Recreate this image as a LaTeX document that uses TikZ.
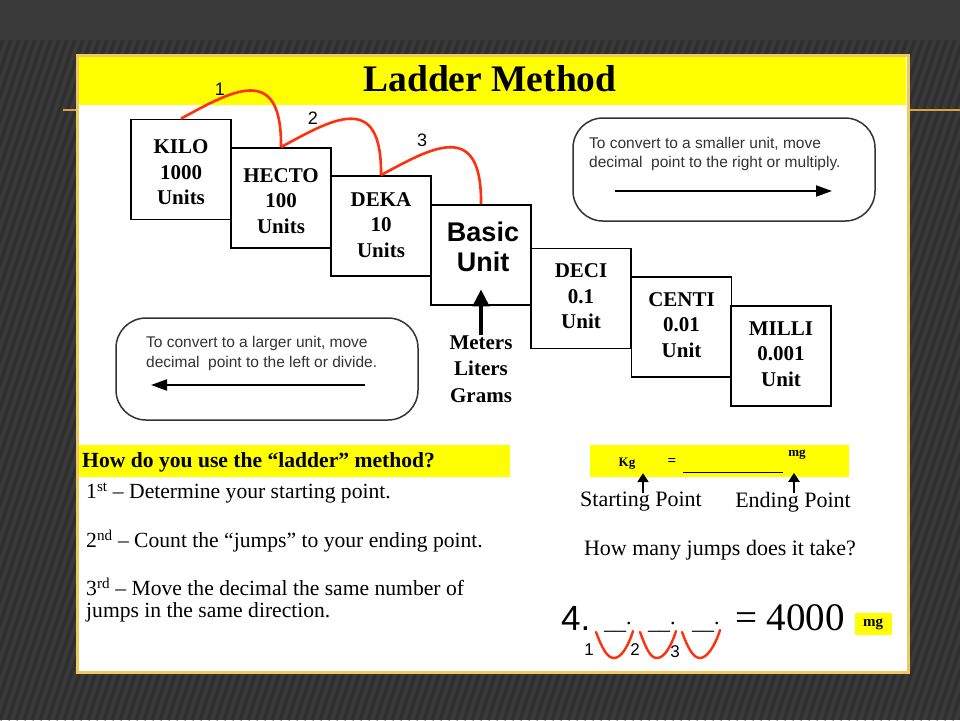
\documentclass[tikz,border=0pt]{standalone}
\usepackage{fontspec}
\setmainfont{Liberation Serif}
\setsansfont{Liberation Sans}
\usetikzlibrary{arrows.meta,calc}
\definecolor{bgdark}{HTML}{3A3A3A}
\definecolor{stripec}{HTML}{2F2F2F}
\definecolor{goldc}{HTML}{F0C860}
\definecolor{orangec}{HTML}{E0A040}
\definecolor{hiyellow}{HTML}{FFFF00}
\definecolor{jumpred}{HTML}{FF3010}
\definecolor{notegray}{HTML}{333333}
\begin{document}
\begin{tikzpicture}[x=1pt,y=-1pt,
  stripe/.style={stripec,line width=3.5pt},
  panel/.style={fill=white,draw=goldc,line width=3pt},
  titletext/.style={font=\bfseries\fontsize{37.5}{40}\selectfont},
  unitbox/.style={draw=black,fill=white,line width=1.8pt,minimum width=100pt,minimum height=100pt,inner sep=0pt},
  unittext/.style={font=\bfseries\fontsize{21}{25.5}\selectfont,align=center,inner sep=0pt},
  basictext/.style={font=\sffamily\bfseries\fontsize{27}{30}\selectfont,align=center,inner sep=0pt},
  jump/.style={jumpred,line width=2.6pt},
  jumplabel/.style={font=\sffamily\fontsize{18}{20}\selectfont,inner sep=0pt},
  notebox/.style={draw=notegray,line width=1.5pt,rounded corners=30pt},
  notetext/.style={font=\sffamily\fontsize{15.5}{19}\selectfont,text=notegray,anchor=west,inner sep=0pt},
  notearrow/.style={line width=2pt,-{Triangle[length=16pt,width=11pt]}},
  bigarrow/.style={line width=4pt,-{Triangle[length=17pt,width=16pt]}},
  smallarrow/.style={line width=2.2pt,-{Triangle[length=9pt,width=11pt]}},
  bodytext/.style={font=\fontsize{21.6}{25}\selectfont,anchor=west,inner sep=0pt},
  boldhead/.style={font=\bfseries\fontsize{21.6}{25}\selectfont,anchor=west,inner sep=0pt},
  pointtext/.style={font=\fontsize{22}{25}\selectfont,inner sep=0pt},
  vmark/.style={jumpred,line width=2.4pt,line cap=round},
  smallbold/.style={font=\bfseries\fontsize{13}{15}\selectfont,inner sep=0pt},
  blanktext/.style={font=\fontsize{22}{24}\selectfont,anchor=base west,inner sep=0pt}
]
\useasboundingbox (0,0) rectangle (960,720);
% background
\fill[bgdark] (0,0) rectangle (960,720);
\begin{scope}
  \clip (0,40) rectangle (960,720);
  \foreach \i in {-40,...,130} \draw[stripe] (\i*8,720) -- ++(230,-690);
\end{scope}
\draw[orangec,line width=1.2pt] (63,110) -- (960,110);
% panel
\draw[panel] (77,55) rectangle (908,672);
\fill[hiyellow] (79,57) rectangle (906,105);
\node[titletext] (title) at (490,79) {Ladder Method};
% ladder boxes
\node[unitbox] (kilo)  at (181,169.5) {};
\node[unitbox] (hecto) at (281,198) {};
\node[unitbox] (deka)  at (381,226) {};
\node[unitbox] (basic) at (481,255) {};
\node[unitbox] (deci)  at (581,298.5) {};
\node[unitbox] (centi) at (681.5,327) {};
\node[unitbox] (milli) at (781,356) {};
\node[unittext] at ([yshift=-3pt]kilo.center) {KILO\\1000\\Units};
\node[unittext] at ([yshift=-3pt]hecto.center) {HECTO\\100\\Units};
\node[unittext] at ([yshift=1pt]deka.center) {DEKA\\10\\Units};
\node[basictext] at ([xshift=2pt,yshift=8pt]basic.center) {Basic\\Unit};
\node[unittext] at ([yshift=2pt]deci.center) {DECI\\0.1\\Unit};
\node[unittext] at ([yshift=2pt]centi.center) {CENTI\\0.01\\Unit};
\node[unittext] at ([yshift=2pt]milli.center) {MILLI\\0.001\\Unit};
% jumps
\draw[jump] (kilo.north) .. controls +(50,-27) and +(1,-86) .. (hecto.north);
\draw[jump] (hecto.north) .. controls +(50,-27) and +(1,-86) .. (deka.north);
\draw[jump] (deka.north) .. controls +(50,-27) and +(1,-86) .. (basic.north);
\node[jumplabel] (j1) at (220,89) {1};
\node[jumplabel] (j2) at (313,118) {2};
\node[jumplabel] (j3) at (422,140) {3};
% meters
\node[unittext,font=\bfseries\fontsize{21}{26.5}\selectfont] (mlg) at (481,369) {Meters\\Liters\\Grams};
\draw[bigarrow] (mlg.north) -- ++(0,-46);
% note boxes
\draw[notebox] (573,118) rectangle (875,221);
\node[notetext] (n1a) at (589,144) {To convert to a smaller unit, move};
\node[notetext] (n1b) at (589,163) {decimal~ point to the right or multiply.};
\coordinate (r1) at (615,191);
\coordinate (r2) at (832,191);
\draw[notearrow] (r1) -- (r2);
\draw[notebox] (116,318) rectangle (418,420);
\node[notetext] (n2a) at (146,343) {To convert to a larger unit, move};
\node[notetext] (n2b) at (146,363) {decimal~ point to the left or divide.};
\coordinate (l1) at (365,385);
\coordinate (l2) at (151,385);
\draw[notearrow] (l1) -- (l2);
% how-to
\fill[hiyellow] (79,445) rectangle (510,477);
\node[boldhead] (how) at (82,462) {How do you use the “ladder” method?};
\node[bodytext] (s1) at (86,493) {1\textsuperscript{st} – Determine your starting point.};
\node[bodytext] (s2) at (86,541) {2\textsuperscript{nd} – Count the “jumps” to your ending point.};
\node[bodytext] (s3) at (86,587) {3\textsuperscript{rd} – Move the decimal the same number of};
\node[bodytext] (s4) at (86,612) {jumps in the same direction.};
% example
\fill[hiyellow] (590,445) rectangle (849,477);
\node[smallbold] (kg) at (627,464) {Kg};
\node[smallbold,font=\bfseries\fontsize{15}{17}\selectfont] (eq) at (672,462) {=};
\draw[line width=1pt] (683,472) -- (783,472);
\node[smallbold] (mg1) at (797,455) {mg};
\node[pointtext] (startpt) at (641,502) {Starting Point};
\node[pointtext] (endpt) at (793,502) {Ending Point};
\draw[smallarrow] ([xshift=2pt,yshift=-1pt]startpt.north) -- ++(0,-20);
\draw[smallarrow] ([xshift=1pt,yshift=-1pt]endpt.north) -- ++(0,-20);
\node[pointtext] (howmany) at (720,550) {How many jumps does it take?};
\node[font=\sffamily\fontsize{35}{38}\selectfont,anchor=base west,inner sep=0pt] (four) at (561,630) {4.};
\node[blanktext] (u1) at (604,624) {\raisebox{-5pt}{\_\_}.};
\node[blanktext] (u2) at (648,624) {\raisebox{-5pt}{\_\_}.};
\node[blanktext] (u3) at (692,624) {\raisebox{-5pt}{\_\_}.};
\node[font=\fontsize{39}{42}\selectfont,anchor=base west,inner sep=0pt] (res) at (735,630) {= 4000};
\fill[hiyellow] (855,613) rectangle (892,635);
\node[smallbold,font=\bfseries\fontsize{15}{17}\selectfont] (mg2) at (873,624) {mg};
\coordinate (d0) at (596,632);
\coordinate (d1) at (633,631);
\coordinate (d2) at (676,631);
\coordinate (d3) at (720,630);
\draw[vmark] (d0) .. controls +(6,16) and +(-7,0) .. (614,658) .. controls +(7,0) and +(-5,16) .. (d1);
\draw[vmark] (640,632) .. controls +(6,16) and +(-7,0) .. (657,658) .. controls +(7,0) and +(-5,16) .. (d2);
\draw[vmark] (682,632) .. controls +(6,16) and +(-7,0) .. (700,658) .. controls +(7,0) and +(-5,16) .. (d3);
\node[jumplabel,font=\sffamily\fontsize{17}{19}\selectfont] (v1) at (589,650) {1};
\node[jumplabel,font=\sffamily\fontsize{17}{19}\selectfont] (v2) at (635,650) {2};
\node[jumplabel,font=\sffamily\fontsize{17}{19}\selectfont] (v3) at (675,652) {3};
\end{tikzpicture}
\end{document}
